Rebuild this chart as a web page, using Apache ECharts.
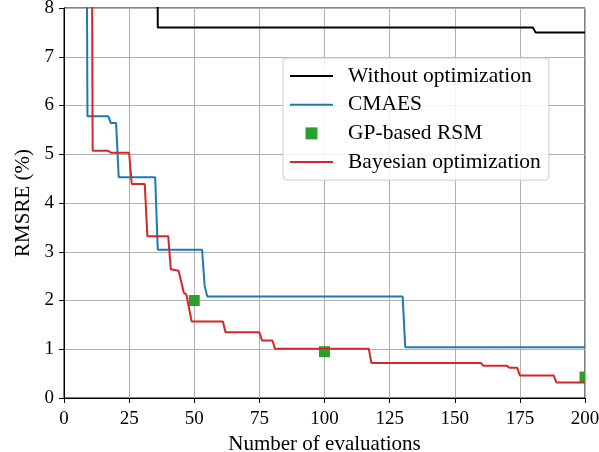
<!DOCTYPE html>
<html>
<head>
<meta charset="utf-8">
<script src="https://cdn.jsdelivr.net/npm/echarts@6/dist/echarts.min.js"></script>
<style>
html,body{margin:0;padding:0;background:#fff;}
#chart{width:599px;height:452px;}
</style>
</head>
<body>
<div id="chart"></div>
<script>
// ---- data ----
var seriesNames = ['Without optimization', 'CMAES', 'GP-based RSM', 'Bayesian optimization'];

var noOptX = [1, 35, 36, 180, 181, 200];
var noOptY = [20, 20, 7.6, 7.6, 7.5, 7.5];

var cmaesX = [1, 8, 9, 17, 18, 20, 21, 35, 36, 53, 54, 55, 130, 131, 200];
var cmaesY = [20, 20, 5.78, 5.78, 5.64, 5.64, 4.53, 4.53, 3.04, 3.04, 2.3, 2.08, 2.08, 1.04, 1.04];

var gpX = [50, 100, 200];
var gpY = [2.0, 0.95, 0.43];

var bayesX = [1, 10, 11, 17, 18, 25, 26, 31, 32, 40, 41, 44, 46, 47, 49, 61, 62, 75, 76, 80, 81, 117, 118, 160, 161, 170, 171, 174, 175, 188, 189, 200];
var bayesY = [20, 20, 5.07, 5.07, 5.03, 5.03, 4.39, 4.39, 3.32, 3.32, 2.64, 2.61, 2.16, 2.12, 1.57, 1.57, 1.35, 1.35, 1.18, 1.18, 1.01, 1.01, 0.72, 0.72, 0.66, 0.66, 0.62, 0.62, 0.46, 0.46, 0.32, 0.32];

var xTicks = {min: 0, max: 200, interval: 25};
var yTicks = {min: 0, max: 8, interval: 1};

function zip(xs, ys) { return xs.map(function (x, i) { return [x, ys[i]]; }); }

var FONT = 'Liberation Serif';
var MARK = 11;
var LINE_ICON = 'path://M0,0L43,0L43,2L0,2Z';
var SQUARE_ICON = 'path://M0,0L10,0L10,10L0,10Z';

var chart = echarts.init(document.getElementById('chart'), null, {renderer: 'canvas'});
var option = {
  animation: false,
  backgroundColor: '#fff',
  grid: {left: 64, right: 14, top: 8, bottom: 54, containLabel: false, outerBoundsMode: 'none',
         show: true, borderColor: '#000', borderWidth: 1, backgroundColor: 'transparent'},
  legend: {
    orient: 'vertical',
    left: 283, top: 58,
    padding: [7, 8, 7, 7],
    itemWidth: 43, itemHeight: 12, itemGap: 6.7,
    backgroundColor: 'rgba(255,255,255,0.85)',
    borderColor: '#cccccc', borderWidth: 1, borderRadius: 4,
    symbolKeepAspect: true,
    itemStyle: {borderWidth: 0},
    textStyle: {fontFamily: FONT, fontSize: 21.5, color: '#000', lineHeight: 20, padding: [0, 0, 0, 10]},
    data: [
      {name: seriesNames[0], icon: LINE_ICON},
      {name: seriesNames[1], icon: LINE_ICON},
      {name: seriesNames[2], icon: SQUARE_ICON},
      {name: seriesNames[3], icon: LINE_ICON}
    ]
  },
  xAxis: {
    type: 'value', min: xTicks.min, max: xTicks.max, interval: xTicks.interval,
    name: 'Number of evaluations', nameLocation: 'middle', nameGap: 33,
    nameTextStyle: {fontFamily: FONT, fontSize: 21, color: '#000'},
    axisLine: {show: true, lineStyle: {color: '#000', width: 1}},
    axisTick: {show: true, inside: false, length: 5, lineStyle: {color: '#000'}},
    axisLabel: {fontFamily: FONT, fontSize: 19, color: '#000', margin: 12},
    splitLine: {show: true, lineStyle: {color: '#b0b0b0', width: 1}}
  },
  yAxis: {
    type: 'value', min: yTicks.min, max: yTicks.max, interval: yTicks.interval,
    name: 'RMSRE (%)', nameLocation: 'middle', nameGap: 30,
    nameTextStyle: {fontFamily: FONT, fontSize: 21, color: '#000'},
    axisLine: {show: true, lineStyle: {color: '#000', width: 1}},
    axisTick: {show: true, inside: false, length: 5, lineStyle: {color: '#000'}},
    axisLabel: {fontFamily: FONT, fontSize: 19, color: '#000', margin: 10},
    splitLine: {show: true, lineStyle: {color: '#b0b0b0', width: 1}}
  },
  series: [
    {name: seriesNames[0], type: 'line', data: zip(noOptX, noOptY), symbol: 'none', clip: true,
     color: '#000000', lineStyle: {width: 2, color: '#000000'}},
    {name: seriesNames[1], type: 'line', data: zip(cmaesX, cmaesY), symbol: 'none', clip: true,
     color: '#1f77b4', lineStyle: {width: 2, color: '#1f77b4'}},
    {name: seriesNames[2], type: 'custom', data: zip(gpX, gpY), color: '#2ca02c',
     encode: {x: 0, y: 1},
     renderItem: function (params, api) {
       var p = api.coord([api.value(0), api.value(1)]);
       var cs = params.coordSys;
       var r = echarts.graphic.clipRectByRect(
         {x: p[0] - MARK / 2, y: p[1] - MARK / 2, width: MARK, height: MARK},
         {x: cs.x, y: cs.y, width: cs.width, height: cs.height});
       if (!r) return null;
       return {type: 'rect', shape: r, style: {fill: '#2ca02c'}};
     }},
    {name: seriesNames[3], type: 'line', data: zip(bayesX, bayesY), symbol: 'none', clip: true,
     color: '#d62728', lineStyle: {width: 2, color: '#d62728'}}
  ]
};
chart.setOption(option);
</script>
</body>
</html>
